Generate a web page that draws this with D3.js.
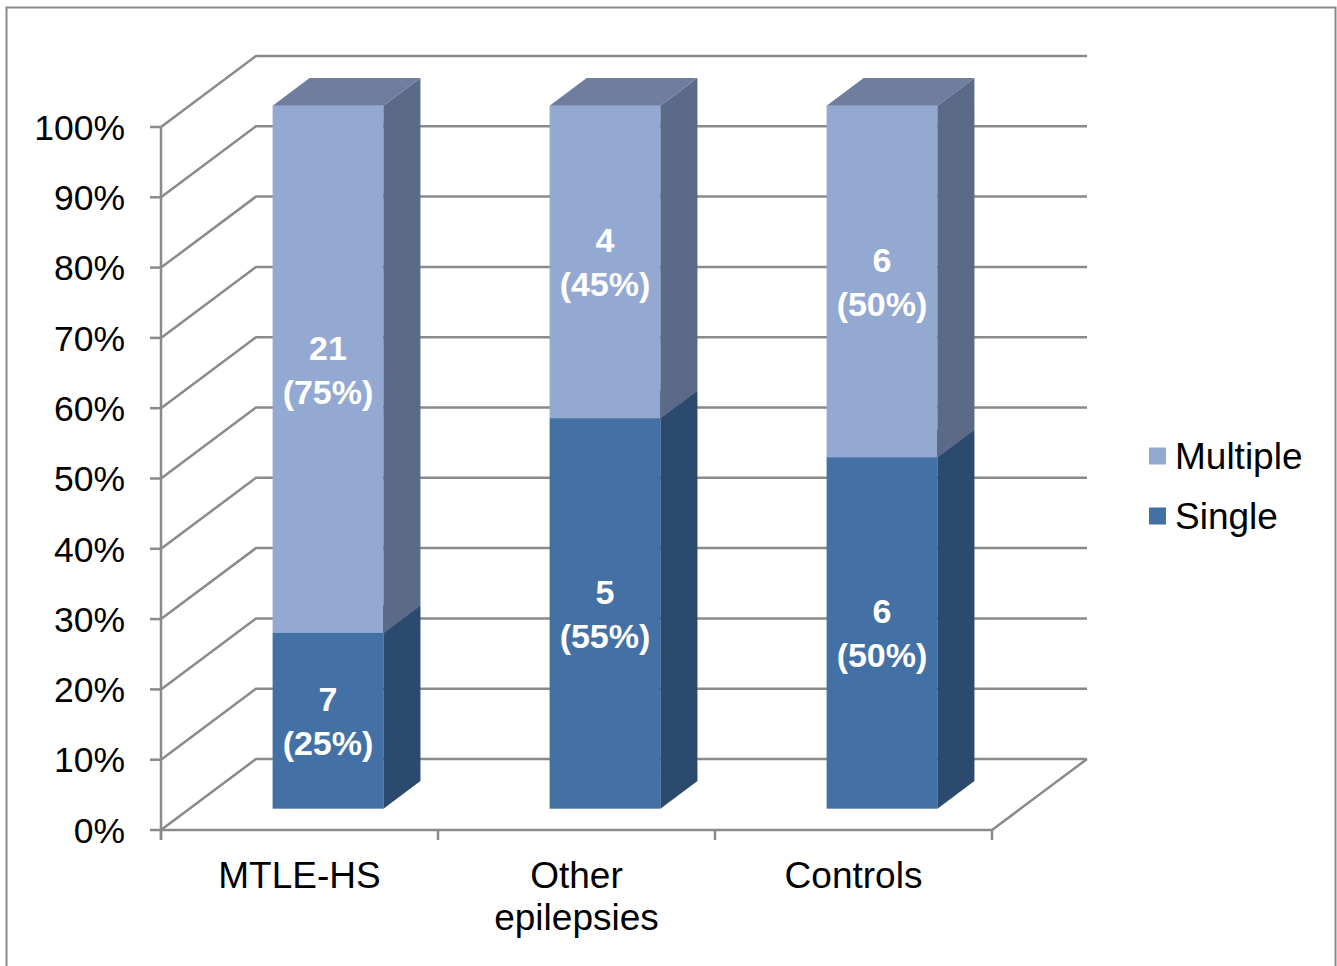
<!DOCTYPE html>
<html>
<head>
<meta charset="utf-8">
<script src="https://cdn.jsdelivr.net/npm/d3@7"></script>
<style>
  body { margin: 0; background: #fff; }
  svg { display: block; font-family: "Liberation Sans", Arial, sans-serif; }
</style>
</head>
<body>
<div id="chart"></div>
<script>
// data
const categories = ["MTLE-HS", "Other epilepsies", "Controls"];
const singleCounts = [7, 5, 6];
const multipleCounts = [21, 4, 6];
const singleLabels = ["(25%)", "(55%)", "(50%)"];
const multipleLabels = ["(75%)", "(45%)", "(50%)"];
const seriesNames = ["Multiple", "Single"];
const yTicks = [0, 0.1, 0.2, 0.3, 0.4, 0.5, 0.6, 0.7, 0.8, 0.9, 1];

const width = 1337, height = 966;

const svg = d3.select("#chart").append("svg")
    .attr("width", width)
    .attr("height", height);

// outer frame
svg.append("rect")
    .attr("x", 6.5).attr("y", 7.5)
    .attr("width", 1329).attr("height", 970)
    .attr("fill", "none")
    .attr("stroke", "#8a8a8a")
    .attr("stroke-width", 2);

// front plane scales, plus an oblique depth offset
const x = d3.scaleBand().domain(categories).range([161, 992]);
const y = d3.scaleLinear().domain([0, 1]).range([830, 127]);
const depthX = 95, depthY = -71;   // full depth of the floor
const barFrontDepth = 0.3, barBackDepth = 0.69;
const barWidth = x.bandwidth() * 0.4;

const gridColor = "#8a8a8a";
const grid = svg.append("g")
    .attr("fill", "none")
    .attr("stroke", gridColor)
    .attr("stroke-width", 2.5);

// side wall diagonals + back wall horizontals
yTicks.forEach(t => {
    const yf = y(t);
    grid.append("path")
        .attr("d", `M${x.range()[0]},${yf} L${x.range()[0] + depthX},${yf + depthY} L${x.range()[1] + depthX},${yf + depthY}`);
});

// floor front edge and right edge
grid.append("path")
    .attr("d", `M${x.range()[0]},${y(0)} L${x.range()[1]},${y(0)} L${x.range()[1] + depthX},${y(0) + depthY}`);

// vertical axis
grid.append("line")
    .attr("x1", x.range()[0]).attr("x2", x.range()[0])
    .attr("y1", y(1)).attr("y2", y(0) + 9);

// axis ticks
yTicks.forEach(t => {
    grid.append("line")
        .attr("x1", x.range()[0] - 11).attr("x2", x.range()[0])
        .attr("y1", y(t)).attr("y2", y(t));
});
const catEdges = categories.map(c => x(c)).concat([x.range()[1]]);
catEdges.forEach(e => {
    grid.append("line")
        .attr("x1", e).attr("x2", e)
        .attr("y1", y(0)).attr("y2", y(0) + 10);
});

// tick labels
svg.append("g")
    .selectAll("text")
    .data(yTicks)
    .enter()
    .append("text")
    .attr("x", 125)
    .attr("y", d => y(d))
    .attr("dy", "0.36em")
    .attr("text-anchor", "end")
    .attr("font-size", 35.5)
    .attr("fill", "#000")
    .text(d => d3.format(".0%")(d));

// category labels
const catLabels = svg.append("g")
    .selectAll("text")
    .data(categories)
    .enter()
    .append("text")
    .attr("text-anchor", "middle")
    .attr("font-size", 37)
    .attr("fill", "#000");

catLabels.each(function(d) {
    const words = d.split(" ");
    const cx = x(d) + x.bandwidth() / 2;
    d3.select(this).selectAll("tspan")
        .data(words)
        .enter()
        .append("tspan")
        .attr("x", cx)
        .attr("y", (w, i) => 888 + i * 42)
        .text(w => w);
});

// stacked data as fractions
const stacks = categories.map((c, i) => {
    const total = singleCounts[i] + multipleCounts[i];
    const s = singleCounts[i] / total;
    return {
        cat: c,
        segments: [
            { from: 0, to: s, count: singleCounts[i], label: singleLabels[i], front: "#4471a5", side: "#2c4a6e", top: "#35587f" },
            { from: s, to: 1, count: multipleCounts[i], label: multipleLabels[i], front: "#94a9d1", side: "#5b6a86", top: "#6f7e9e" }
        ]
    };
});

const sdx = (barBackDepth - barFrontDepth) * depthX;
const sdy = (barBackDepth - barFrontDepth) * depthY;

const bars = svg.append("g");
stacks.forEach(st => {
    const x0 = x(st.cat) + x.bandwidth() / 2 + barFrontDepth * depthX - barWidth / 2;
    const x1 = x0 + barWidth;
    const off = barFrontDepth * depthY;
    st.segments.forEach(seg => {
        const yb = y(seg.from) + off;
        const yt = y(seg.to) + off;
        const g = bars.append("g");
        // front face
        g.append("rect")
            .attr("x", x0).attr("y", yt)
            .attr("width", barWidth).attr("height", yb - yt)
            .attr("fill", seg.front);
        // right side face
        g.append("path")
            .attr("d", `M${x1},${yb} L${x1 + sdx},${yb + sdy} L${x1 + sdx},${yt + sdy} L${x1},${yt} Z`)
            .attr("fill", seg.side);
        // top face
        g.append("path")
            .attr("d", `M${x0},${yt} L${x0 + sdx},${yt + sdy} L${x1 + sdx},${yt + sdy} L${x1},${yt} Z`)
            .attr("fill", seg.top);
        // value label
        const cy = (yb + yt) / 2;
        const lbl = g.append("text")
            .attr("text-anchor", "middle")
            .attr("font-size", 34)
            .attr("font-weight", "bold")
            .attr("fill", "#fff");
        lbl.append("tspan").attr("x", (x0 + x1) / 2).attr("y", cy - 22).attr("dy", "0.36em").text(seg.count);
        lbl.append("tspan").attr("x", (x0 + x1) / 2).attr("y", cy + 22).attr("dy", "0.36em").text(seg.label);
    });
});

// legend
const legendColors = ["#94a9d1", "#4471a5"];
const legend = svg.append("g");
seriesNames.forEach((name, i) => {
    const ly = 456 + i * 60;
    legend.append("rect")
        .attr("x", 1149).attr("y", ly - 8.5)
        .attr("width", 17).attr("height", 17)
        .attr("fill", legendColors[i]);
    legend.append("text")
        .attr("x", 1175).attr("y", ly)
        .attr("dy", "0.36em")
        .attr("font-size", 37)
        .attr("fill", "#000")
        .text(name);
});
</script>
</body>
</html>
